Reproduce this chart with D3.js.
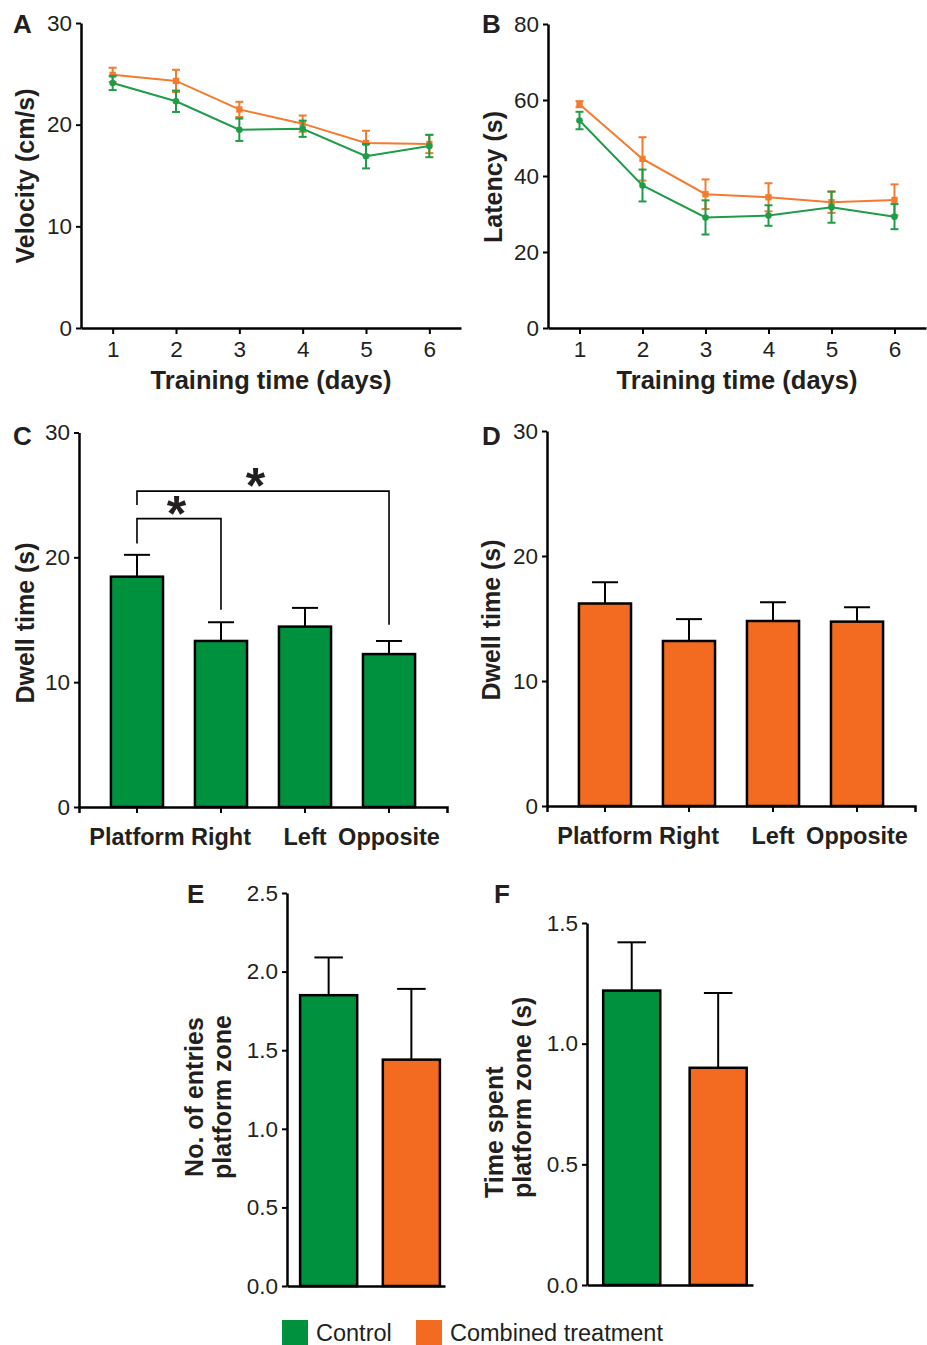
<!DOCTYPE html>
<html>
<head>
<meta charset="utf-8">
<script src="https://cdn.jsdelivr.net/npm/d3@7"></script>
<style>
  body { margin: 0; background: #fff; }
  svg text { font-family: "Liberation Sans", Arial, sans-serif; fill: #231f20; }
</style>
</head>
<body>
<div id="fig"></div>
<script>
// data
const days = [1, 2, 3, 4, 5, 6];
const velCtrl = [24.1, 22.3, 19.5, 19.6, 16.9, 17.9];
const velCtrlErr = [0.7, 1.05, 1.1, 0.8, 1.2, 1.1];
const velComb = [24.9, 24.3, 21.5, 20.1, 18.2, 18.1];
const velCombErr = [0.7, 1.1, 0.75, 0.8, 1.2, 0.9];
const latCtrl = [54.6, 37.5, 29.1, 29.6, 31.8, 29.3];
const latCtrlErr = [2.3, 4.2, 4.5, 2.7, 4.1, 3.3];
const latComb = [58.9, 44.5, 35.2, 34.4, 33.1, 33.7];
const latCombErr = [0.8, 5.7, 3.9, 3.7, 2.8, 4.1];

const quadrants = ["Platform", "Right", "Left", "Opposite"];
const dwellCtrl = [18.45, 13.3, 14.45, 12.25];
const dwellCtrlErr = [1.75, 1.5, 1.5, 1.05];
const dwellComb = [16.2, 13.2, 14.8, 14.75];
const dwellCombErr = [1.7, 1.75, 1.5, 1.15];

// significance brackets in panel C (values in seconds)
const sigFrom = ["Platform", "Platform"];
const sigTo = ["Right", "Opposite"];
const sigTop = [23.1, 25.3];
const sigFootFrom = [21.1, 24.2];
const sigFootTo = [15.8, 14.6];

const groups = ["Control", "Combined treatment"];
const entries = [1.85, 1.44];
const entriesErr = [0.24, 0.45];
const timeSpent = [1.22, 0.90];
const timeSpentErr = [0.20, 0.31];

const lineGreen = "#1f9c48", lineOrange = "#f47a2e";
const barGreen = "#00913f", barOrange = "#f26b21";

const svg = d3.select("#fig").append("svg")
    .attr("width", 927).attr("height", 1345);

function styleAxis(g) {
    g.select(".domain").attr("stroke", "#000").attr("stroke-width", 2.5);
    g.selectAll(".tick line").attr("stroke", "#000").attr("stroke-width", 2);
    g.selectAll(".tick text").style("font-size", "22.5px").attr("fill", "#231f20");
}

function yTitle(lines, x, y, anchor) {
    let t = svg.append("text")
        .attr("transform", "translate(" + x + "," + y + ") rotate(-90)")
        .attr("text-anchor", anchor || "middle")
        .style("font-size", "25px").style("font-weight", "bold");
    lines.forEach(function(s, i) {
        t.append("tspan").attr("x", 0).attr("dy", i == 0 ? 0 : 28).text(s);
    });
}

function panelLetter(s, x, y) {
    svg.append("text").attr("x", x).attr("y", y).text(s)
        .style("font-size", "26px").style("font-weight", "bold");
}

function linePanel(p) {
    let x = d3.scaleLinear().domain([0.5, 6.5]).range([p.x0, p.x1]);
    let y = d3.scaleLinear().domain([0, p.ymax]).range([p.y0, p.y1]);

    svg.append("g").attr("transform", "translate(0," + p.y0 + ")")
        .call(d3.axisBottom(x).tickValues(days).tickFormat(d3.format("d"))
            .tickSize(6).tickSizeOuter(0).tickPadding(7))
        .call(styleAxis);
    svg.append("g").attr("transform", "translate(" + p.x0 + ",0)")
        .call(d3.axisLeft(y).ticks(p.nt).tickSize(5).tickSizeOuter(0).tickPadding(4))
        .call(styleAxis);

    p.series.forEach(function(s) {
        let g = svg.append("g");
        g.append("path").datum(days)
            .attr("fill", "none").attr("stroke", s.color).attr("stroke-width", 2)
            .attr("d", d3.line().x(d => x(d)).y((d, i) => y(s.vals[i])));
        days.forEach(function(d, i) {
            let cx = x(d);
            let hi = y(s.vals[i] + s.errs[i]), lo = y(s.vals[i] - s.errs[i]);
            g.append("line").attr("x1", cx).attr("x2", cx).attr("y1", hi).attr("y2", lo)
                .attr("stroke", s.color).attr("stroke-width", 2);
            [hi, lo].forEach(function(v) {
                g.append("line").attr("x1", cx - 4).attr("x2", cx + 4).attr("y1", v).attr("y2", v)
                    .attr("stroke", s.color).attr("stroke-width", 2);
            });
            g.append("path")
                .attr("transform", "translate(" + cx + "," + y(s.vals[i]) + ")")
                .attr("d", d3.symbol().type(s.square ? d3.symbolSquare : d3.symbolCircle).size(s.square ? 40 : 34)())
                .attr("fill", s.color);
        });
    });

    svg.append("text").attr("x", (x(1) + x(6)) / 2).attr("y", p.y0 + 61)
        .attr("text-anchor", "middle").style("font-size", "25.5px").style("font-weight", "bold")
        .text("Training time (days)");
}

function barPanel(p) {
    let x = d3.scaleBand().domain(p.cats).range([p.x0, p.x1])
        .paddingInner(p.pi).paddingOuter(p.po).align(p.align);
    let y = d3.scaleLinear().domain([0, p.ymax]).range([p.y0, p.y1]);

    let xa = d3.axisBottom(x).tickSizeOuter(0);
    if (p.showCats) xa.tickSize(6).tickPadding(15);
    else xa.tickSize(0).tickFormat("");
    let gx = svg.append("g").attr("transform", "translate(0," + p.y0 + ")").call(xa).call(styleAxis);
    gx.selectAll(".tick text").style("font-size", "23.5px").style("font-weight", "bold");

    svg.append("g").attr("transform", "translate(" + p.x0 + ",0)")
        .call(d3.axisLeft(y).tickValues(p.tv).tickFormat(p.fmt).tickSize(5).tickSizeOuter(0).tickPadding(4))
        .call(styleAxis);

    let bw = x.bandwidth();
    p.cats.forEach(function(c, i) {
        let cx = x(c) + bw / 2;
        let top = y(p.vals[i] + p.errs[i]);
        svg.append("line").attr("x1", cx).attr("x2", cx).attr("y1", top).attr("y2", y(p.vals[i]))
            .attr("stroke", "#000").attr("stroke-width", 2);
        svg.append("line").attr("x1", cx - bw * 0.25).attr("x2", cx + bw * 0.25).attr("y1", top).attr("y2", top)
            .attr("stroke", "#000").attr("stroke-width", 2);
        svg.append("rect").attr("x", x(c)).attr("y", y(p.vals[i]))
            .attr("width", bw).attr("height", p.y0 - y(p.vals[i]))
            .attr("fill", p.colors[i]).attr("stroke", "#000").attr("stroke-width", 2.5);
    });
    return { x: x, y: y };
}

// A
linePanel({ x0: 81, x1: 461, y0: 328, y1: 23, ymax: 30, nt: 3,
    series: [{ vals: velComb, errs: velCombErr, color: lineOrange, square: true },
             { vals: velCtrl, errs: velCtrlErr, color: lineGreen }] });
panelLetter("A", 13, 33);
yTitle(["Velocity (cm/s)"], 34, 176);

// B
linePanel({ x0: 548, x1: 926, y0: 328, y1: 24, ymax: 80, nt: 4,
    series: [{ vals: latComb, errs: latCombErr, color: lineOrange, square: true },
             { vals: latCtrl, errs: latCtrlErr, color: lineGreen }] });
panelLetter("B", 482, 33);
yTitle(["Latency (s)"], 502, 177);

// C
let c = barPanel({ cats: quadrants, vals: dwellCtrl, errs: dwellCtrlErr,
    colors: quadrants.map(() => barGreen), x0: 79, x1: 447, y0: 807, y1: 432.5, ymax: 30,
    pi: 0.38, po: 0.38, align: 0.5, tv: [0, 10, 20, 30], fmt: d3.format("d"), showCats: true });
panelLetter("C", 13, 445);
yTitle(["Dwell time (s)"], 34, 623);

sigFrom.forEach(function(f, i) {
    let bw = c.x.bandwidth();
    let xa = c.x(f) + bw / 2, xb = c.x(sigTo[i]) + bw / 2;
    let yt = c.y(sigTop[i]);
    svg.append("path")
        .attr("d", "M" + xa + "," + c.y(sigFootFrom[i]) + "V" + yt + "H" + xb + "V" + c.y(sigFootTo[i]))
        .attr("fill", "none").attr("stroke", "#000").attr("stroke-width", 1.6);
    svg.append("text").attr("x", xa + (xb - xa) * 0.47).attr("y", yt + 12)
        .attr("text-anchor", "middle").style("font-size", "50px").style("font-weight", "bold")
        .attr("fill", "#000").text("*");
});

// D
barPanel({ cats: quadrants, vals: dwellComb, errs: dwellCombErr,
    colors: quadrants.map(() => barOrange), x0: 547, x1: 915, y0: 806, y1: 431, ymax: 30,
    pi: 0.38, po: 0.38, align: 0.5, tv: [0, 10, 20, 30], fmt: d3.format("d"), showCats: true });
panelLetter("D", 482, 445);
yTitle(["Dwell time (s)"], 500, 620);

// E
barPanel({ cats: groups, vals: entries, errs: entriesErr, colors: [barGreen, barOrange],
    x0: 287, x1: 445, y0: 1286, y1: 893, ymax: 2.5, pi: 0.31, po: 0.11, align: 0.72,
    tv: [0, 0.5, 1, 1.5, 2, 2.5], fmt: d3.format(".1f"), showCats: false });
panelLetter("E", 187, 903);
yTitle(["No. of entries", "platform zone"], 203, 1097);

// F
barPanel({ cats: groups, vals: timeSpent, errs: timeSpentErr, colors: [barGreen, barOrange],
    x0: 587, x1: 753, y0: 1285, y1: 923, ymax: 1.5, pi: 0.34, po: 0.13, align: 0.72,
    tv: [0, 0.5, 1, 1.5], fmt: d3.format(".1f"), showCats: false });
panelLetter("F", 494, 903);
yTitle(["Time spent", "platform zone (s)"], 503, 1198, "start");

// legend
let lg = svg.append("g").attr("transform", "translate(282,1320)");
let legX = [0, 134];
groups.forEach(function(gname, i) {
    lg.append("rect").attr("x", legX[i]).attr("y", 0).attr("width", 26).attr("height", 25)
        .attr("fill", i == 0 ? barGreen : barOrange);
    lg.append("text").attr("x", legX[i] + 34).attr("y", 21).style("font-size", "23.5px")
        .attr("fill", "#333").text(gname);
});
</script>
</body>
</html>
